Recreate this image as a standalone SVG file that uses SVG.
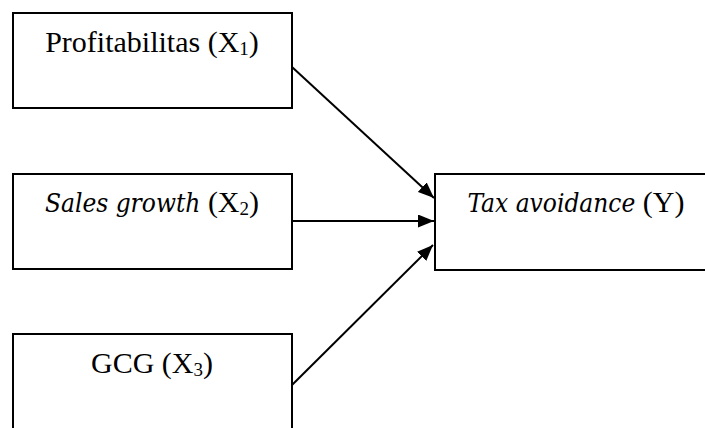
<svg xmlns="http://www.w3.org/2000/svg" width="705" height="428" viewBox="0 0 705 428">
<style>
.box{fill:#fff;stroke:#000;stroke-width:2}
.lbl{font-family:"Liberation Serif","Times New Roman",serif;font-size:30px;fill:#000;text-anchor:middle}
.it{font-family:"DejaVu Serif",serif;font-stretch:condensed;font-style:italic;font-size:26px}
.sub{font-size:19px}
.con{stroke:#000;stroke-width:2;fill:none;marker-end:url(#ah)}
</style>
<defs>
<marker id="ah" viewBox="0 0 16 13" refX="16" refY="6.5" markerWidth="16" markerHeight="13" markerUnits="userSpaceOnUse" orient="auto">
<path d="M0,0 L16,6.5 L0,13 Z" fill="#000"/>
</marker>
</defs>
<g id="connectors">
<line class="con" x1="292" y1="67" x2="434" y2="198"/>
<line class="con" x1="292" y1="221" x2="434" y2="221"/>
<line class="con" x1="292" y1="385" x2="433" y2="245"/>
</g>
<g id="x1">
<rect class="box" x="13" y="13" width="279" height="95"/>
<text class="lbl" x="152" y="52">Profitabilitas (X<tspan class="sub" dy="3">1</tspan><tspan dy="-3">)</tspan></text>
</g>
<g id="x2">
<rect class="box" x="13" y="174" width="279" height="95"/>
<text class="lbl" x="152" y="212"><tspan class="it">Sales growth</tspan> (X<tspan class="sub" dy="3">2</tspan><tspan dy="-3">)</tspan></text>
</g>
<g id="x3">
<rect class="box" x="13" y="334" width="279" height="120"/>
<text class="lbl" x="152" y="373">GCG (X<tspan class="sub" dy="3">3</tspan><tspan dy="-3">)</tspan></text>
</g>
<g id="y">
<rect class="box" x="435" y="174" width="300" height="96"/>
<text class="lbl" x="576" y="212"><tspan class="it">Tax avoidance</tspan> (Y)</text>
</g>
</svg>
